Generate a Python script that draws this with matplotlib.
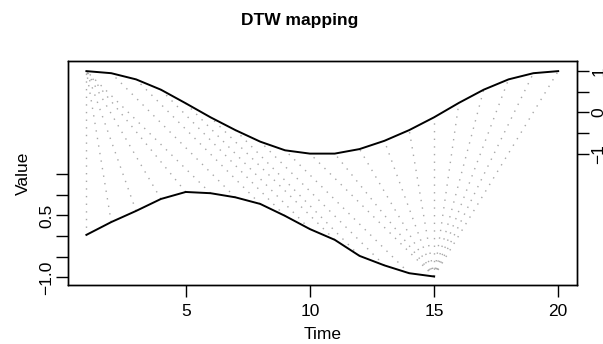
import numpy as np
import matplotlib
matplotlib.use('Agg')
import matplotlib.pyplot as plt

# bottom series (query), values on the left axis
query = [0.03, 0.34, 0.61, 0.90, 1.07, 1.04, 0.94, 0.78, 0.49, 0.17,
         -0.09, -0.48, -0.71, -0.90, -0.98]
# top series (reference), values on the right axis, drawn shifted up by offset
reference = [1.00, 0.95, 0.80, 0.55, 0.22, -0.12, -0.43, -0.71, -0.92, -1.00,
             -1.00, -0.89, -0.69, -0.43, -0.12, 0.23, 0.55, 0.80, 0.95, 1.00]
offset = 3

# warping path (1-based indices): query point -> reference point
map_query = [1, 2, 3, 4, 5, 6, 7, 8, 9, 10, 11, 12, 13, 14,
             15, 15, 15, 15, 15, 15, 15, 15, 15, 15, 15]
map_reference = [1, 1, 1, 1, 1, 1, 2, 3, 4, 5, 6, 7, 8, 9,
                 10, 11, 12, 13, 14, 15, 16, 17, 18, 19, 20]

x_ticks = [5, 10, 15, 20]
left_ticks = [-1.0, -0.5, 0.0, 0.5, 1.0, 1.5]
left_labels = ['\u22121.0', '', '', '0.5', '', '']
right_ticks = [-1, -0.5, 0, 0.5, 1]
right_labels = ['\u22121', '', '0', '', '1']

plt.rcParams['font.family'] = ['Liberation Sans', 'DejaVu Sans']
plt.rcParams['font.size'] = 12.5

fig = plt.figure(figsize=(6.03, 3.44), dpi=100)
ax = fig.add_axes([0.112, 0.171, 0.845, 0.651])

qx = np.arange(1, len(query) + 1)
rx = np.arange(1, len(reference) + 1)
top = np.array(reference) + offset

# matching lines
for a, b in zip(map_query, map_reference):
    ax.plot([a, b], [query[a - 1], top[b - 1]], color='#a8a8a8', lw=1.0,
            linestyle=(0, (1, 4.5)), zorder=1)

ax.plot(qx, query, color='black', lw=1.4, zorder=2)
ax.plot(rx, top, color='black', lw=1.4, zorder=2)

ax.set_xlim(0.24, 20.76)
ax.set_ylim(-1.19, 4.24)

for s in ax.spines.values():
    s.set_linewidth(1.0)

ax.set_xticks(x_ticks)
ax.set_xticklabels([str(t) for t in x_ticks])
ax.set_yticks(left_ticks)
ax.set_yticklabels(left_labels, rotation=90, va='center')
ax.tick_params(axis='both', direction='out', length=8.3, width=1.0)
ax.tick_params(axis='x', pad=5.5)
ax.tick_params(axis='y', pad=1.2)

ax2 = ax.twinx()
ax2.set_ylim(ax.get_ylim())
ax2.set_yticks([t + offset for t in right_ticks])
ax2.set_yticklabels(right_labels, rotation=90, va='center')
ax2.tick_params(axis='y', direction='out', length=8.3, width=1.0, pad=2)
for s in ax2.spines.values():
    s.set_linewidth(1.0)

ax.set_xlabel('Time', labelpad=5.5)
ax.set_ylabel('Value', labelpad=6)
fig.text(300 / 603, 1 - 21 / 344, 'DTW mapping', ha='center', va='center',
         fontsize=12.5, fontweight='bold')

fig.savefig('out.png', dpi=100)
